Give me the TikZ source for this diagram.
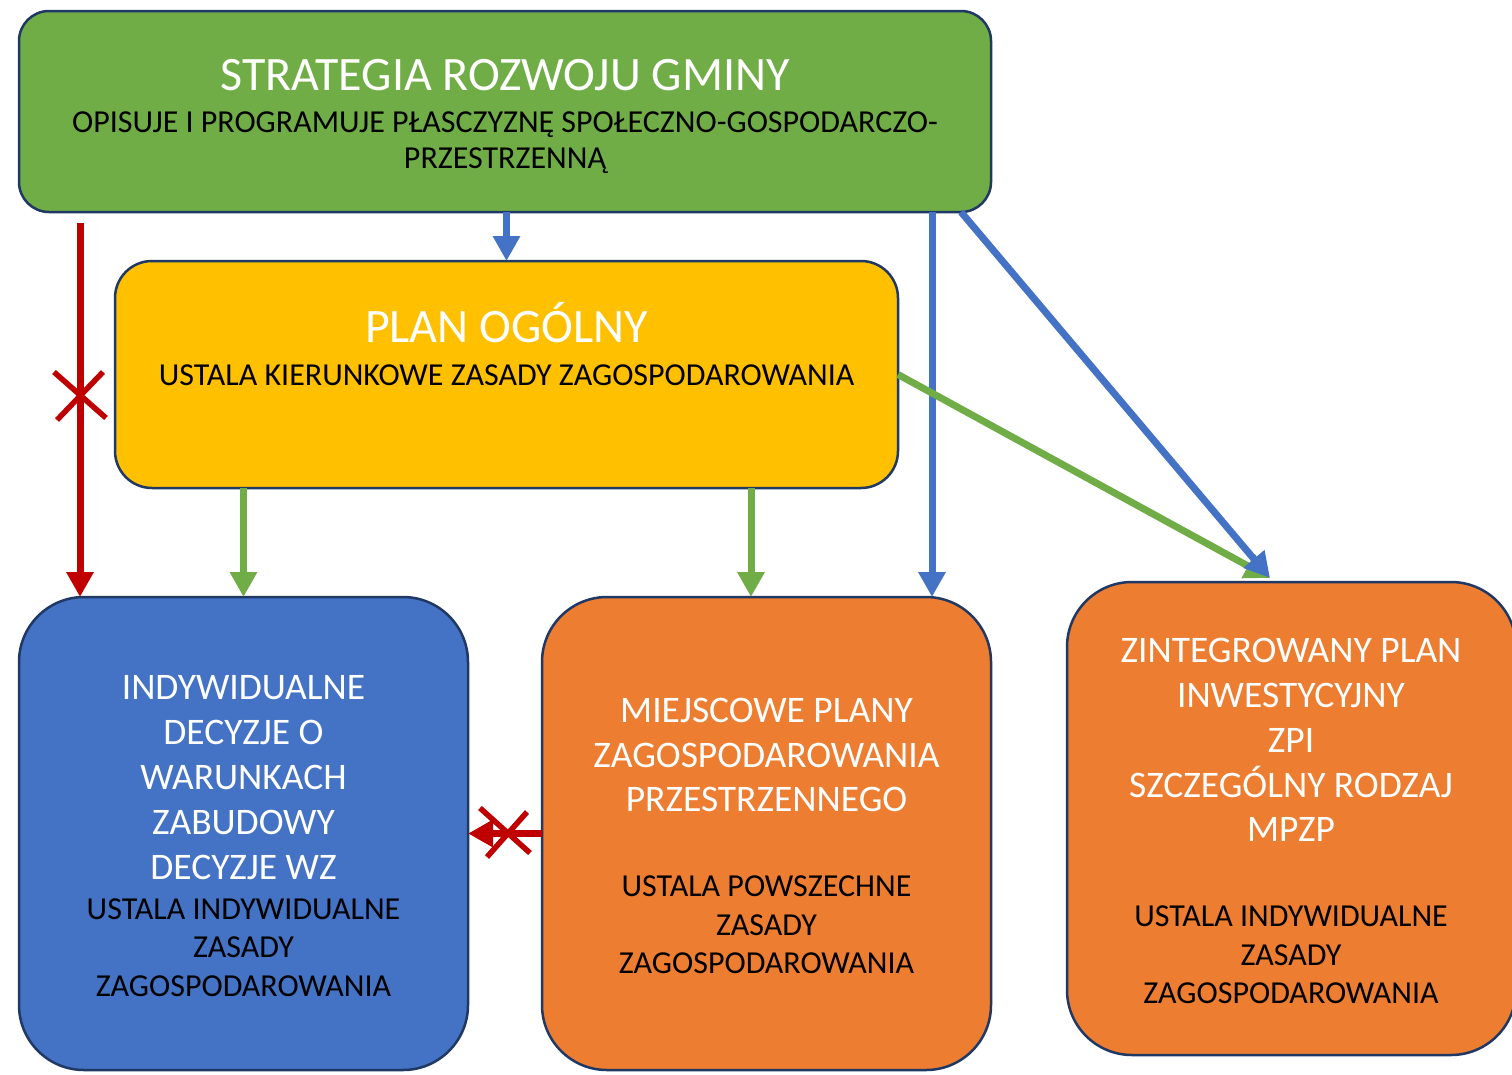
\documentclass[tikz,border=0pt]{standalone}
\usepackage{fontspec}
\setmainfont{Carlito}
\usetikzlibrary{arrows.meta,calc}
\definecolor{cgreen}{HTML}{70AD47}
\definecolor{cyellow}{HTML}{FFC000}
\definecolor{cblue}{HTML}{4472C4}
\definecolor{corange}{HTML}{ED7D31}
\definecolor{cred}{HTML}{C00000}
\definecolor{cedge}{HTML}{1F3864}
\tikzset{
  box/.style={draw=cedge, line width=2.5pt, inner sep=0pt, outer sep=0pt},
  bigbox/.style={box, rounded corners=65pt, minimum width=449pt, minimum height=473pt},
  head/.style={anchor=base, inner sep=0pt, text=white, font=\fontsize{48}{57}\selectfont},
  wline/.style={anchor=base, inner sep=0pt, text=white, font=\fontsize{37.5}{44}\selectfont},
  kline/.style={anchor=base, inner sep=0pt, text=black, font=\fontsize{32}{38}\selectfont},
  conn/.style={line width=7pt, -{Triangle[length=25pt,width=26pt]}},
  xmark/.style={draw=cred, line width=5.5pt},
}
\begin{document}
\begin{tikzpicture}[x=1pt,y=-1pt]
\useasboundingbox (0,0) rectangle (1512,1074);
\fill[white] (0,0) rectangle (1512,1074);

% boxes
\node[box, fill=cgreen, rounded corners=30pt, minimum width=972pt, minimum height=201pt] (sg) at (505,111.5) {};
\node[box, fill=cyellow, rounded corners=37pt, minimum width=783pt, minimum height=227pt] (plan) at (506.5,374.5) {};
\node[bigbox, fill=cblue] (wz) at (243.5,833.5) {};
\node[bigbox, fill=corange] (mpzp) at (766.5,833.5) {};
\node[bigbox, fill=corange] (zpi) at (1291.5,818.5) {};

% texts of the top box
\node[head] (sgt) at (505,90) {STRATEGIA ROZWOJU GMINY};
\node[kline] (sg1) at (505,132) {OPISUJE I PROGRAMUJE PŁASCZYZNĘ SPOŁECZNO-GOSPODARCZO-};
\node[kline] (sg2) at (505,168) {PRZESTRZENNĄ};

% texts of the general plan
\node[head] (plt) at (506.5,342) {PLAN OGÓLNY};
\node[kline] (pl1) at (506.5,385) {USTALA KIERUNKOWE ZASADY ZAGOSPODAROWANIA};

% texts of the WZ box
\node[wline] (wz1) at (243.5,699) {INDYWIDUALNE};
\node[wline] (wz2) at (243.5,744) {DECYZJE O};
\node[wline] (wz3) at (243.5,789) {WARUNKACH};
\node[wline] (wz4) at (243.5,834) {ZABUDOWY};
\node[wline] (wz5) at (243.5,879) {DECYZJE WZ};
\node[kline] (wz6) at (243.5,919) {USTALA INDYWIDUALNE};
\node[kline] (wz7) at (243.5,957) {ZASADY};
\node[kline] (wz8) at (243.5,996) {ZAGOSPODAROWANIA};

% texts of the MPZP box
\node[wline] (mp1) at (766.5,722) {MIEJSCOWE PLANY};
\node[wline] (mp2) at (766.5,767) {ZAGOSPODAROWANIA};
\node[wline] (mp3) at (766.5,811) {PRZESTRZENNEGO};
\node[kline] (mp4) at (766.5,896) {USTALA POWSZECHNE};
\node[kline] (mp5) at (766.5,935) {ZASADY};
\node[kline] (mp6) at (766.5,973) {ZAGOSPODAROWANIA};

% texts of the ZPI box
\node[wline] (zp1) at (1291,662) {ZINTEGROWANY PLAN};
\node[wline] (zp2) at (1291,707) {INWESTYCYJNY};
\node[wline] (zp3) at (1291,752) {ZPI};
\node[wline] (zp4) at (1291,797) {SZCZEGÓLNY RODZAJ};
\node[wline] (zp5) at (1291,841) {MPZP};
\node[kline] (zp6) at (1291,926) {USTALA INDYWIDUALNE};
\node[kline] (zp7) at (1291,965) {ZASADY};
\node[kline] (zp8) at (1291,1003) {ZAGOSPODAROWANIA};

% connectors
\draw[conn, cred, shorten <=11pt] (sg.south -| 80,0) -- (wz.north -| 80,0);
\draw[conn, cblue] (plan.north |- sg.south) -- (plan.north);
\draw[conn, cgreen] (plan.south -| wz.north) -- (wz.north);
\draw[conn, cgreen] (plan.south -| 751,0) -- (mpzp.north -| 751,0);
\draw[conn, cblue] (sg.south -| 932,0) -- (mpzp.north -| 932,0);
\coordinate (ztip) at (1270,578);
\draw[conn, cgreen] (plan.east) -- (ztip);
\draw[conn, cblue] ($(sg.south east)+(-30,0)$) -- (ztip);
\draw[conn, cred] (mpzp.west) -- (wz.east);

% crossed-out marks
\coordinate (x1) at (80,395);
\draw[xmark] ($(x1)+(-26,-23)$) -- ($(x1)+(26,23)$);
\draw[xmark] ($(x1)+(23,-23)$) -- ($(x1)+(-23,25)$);
\coordinate (x2) at (507,832);
\draw[xmark] ($(x2)+(-27,-24)$) -- ($(x2)+(23,21)$);
\draw[xmark] ($(x2)+(20,-20)$) -- ($(x2)+(-20,25)$);
\end{tikzpicture}
\end{document}
